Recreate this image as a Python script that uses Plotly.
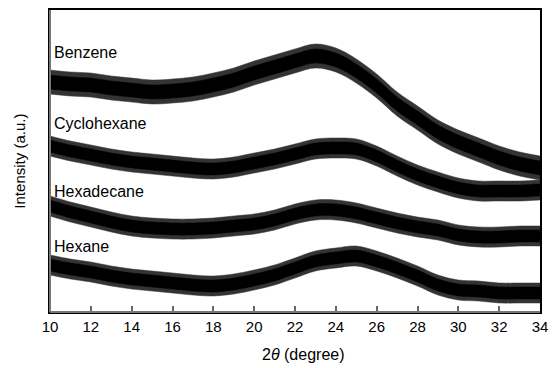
import plotly.graph_objects as go

two_theta = [10, 11, 12, 13, 14, 15, 16, 17, 18, 19, 20, 21, 22,
             23, 24, 25, 26, 27, 28, 29, 30, 31, 32, 33, 34]

benzene = [230, 228, 227, 224, 222, 220, 221, 223, 227, 232, 239, 245, 251,
           256, 252, 241, 226, 208, 194, 180, 170, 162, 154, 148, 144]
cyclohexane = [166, 161, 157, 153, 150, 148, 146, 144, 143, 145, 149, 153, 158,
               163, 164, 163, 156, 146, 137, 130, 124, 121, 121, 121, 122]
hexadecane = [106, 100, 95, 90, 86, 84, 83, 83, 84, 86, 88, 92, 98,
              102, 102, 99, 94, 89, 85, 82, 77, 75, 75, 76, 76]
hexane = [47, 43, 40, 36, 33, 31, 29, 27, 26, 28, 32, 37, 44,
          51, 54, 56, 51, 44, 36, 27, 22, 21, 19, 19, 19]

series_names = ["Benzene", "Cyclohexane", "Hexadecane", "Hexane"]
series_values = [benzene, cyclohexane, hexadecane, hexane]
noise_outer = [12, 10, 10, 10]          # visual spread of noisy trace (a.u.)
noise_inner = [7, 6, 6, 6]
label_levels = [260, 189, 121, 66]      # label heights (a.u.)
x_ticks = [10, 12, 14, 16, 18, 20, 22, 24, 26, 28, 30, 32, 34]

FONT = "Liberation Sans, Arial, sans-serif"
fig = go.Figure()


def band(vals, hw, color, name):
    upper = [v + hw for v in vals]
    lower = [v - hw for v in vals]
    fig.add_trace(go.Scatter(x=two_theta, y=upper, mode="lines",
                             line=dict(color=color, width=0.5, shape="spline"),
                             showlegend=False, hoverinfo="skip"))
    fig.add_trace(go.Scatter(x=two_theta, y=lower, mode="lines",
                             line=dict(color=color, width=0.5, shape="spline"),
                             fill="tonexty", fillcolor=color,
                             showlegend=False, name=name))


for name, vals, ho, hi in zip(series_names, series_values, noise_outer, noise_inner):
    band(vals, ho, "#333333", name)
    band(vals, hi, "#000000", name)

for name, lvl in zip(series_names, label_levels):
    fig.add_annotation(x=10.12, y=lvl, xref="x", yref="y", text=name,
                       showarrow=False, xanchor="left", yanchor="middle",
                       font=dict(family=FONT, size=16, color="black"))

fig.add_annotation(x=-0.064, y=0.5, xref="paper", yref="paper",
                   text="Intensity (a.u.)", textangle=-90, showarrow=False,
                   xanchor="center", yanchor="middle",
                   font=dict(family=FONT, size=15, color="black"))
fig.add_annotation(x=0.518, y=-0.142, xref="paper", yref="paper",
                   text="2<i>θ</i> (degree)", showarrow=False,
                   xanchor="center", yanchor="middle",
                   font=dict(family=FONT, size=16, color="black"))

# gray left and bottom lines over the black mirrored frame
fig.add_shape(type="line", xref="paper", yref="paper", x0=0, x1=1, y0=0, y1=0,
              line=dict(color="#777777", width=2), layer="above")
fig.add_shape(type="line", xref="paper", yref="paper", x0=0, x1=0, y0=0, y1=1,
              line=dict(color="#777777", width=2), layer="above")

fig.update_xaxes(range=[10, 34], tickvals=x_ticks, ticks="inside", ticklen=6,
                 tickcolor="#666666", tickwidth=1.5, showline=True, mirror=True,
                 linecolor="black", linewidth=1.5, showgrid=False, zeroline=False,
                 ticklabeloverflow="allow",
                 tickfont=dict(family=FONT, size=15, color="black"))
fig.update_yaxes(range=[0, 302], showticklabels=False, ticks="", showline=True,
                 mirror=True, linecolor="black", linewidth=1.5, showgrid=False,
                 zeroline=False)

fig.update_layout(width=556, height=368, margin=dict(l=50, r=8, t=10, b=56),
                  plot_bgcolor="white", paper_bgcolor="white")

fig.write_html("out.html")
